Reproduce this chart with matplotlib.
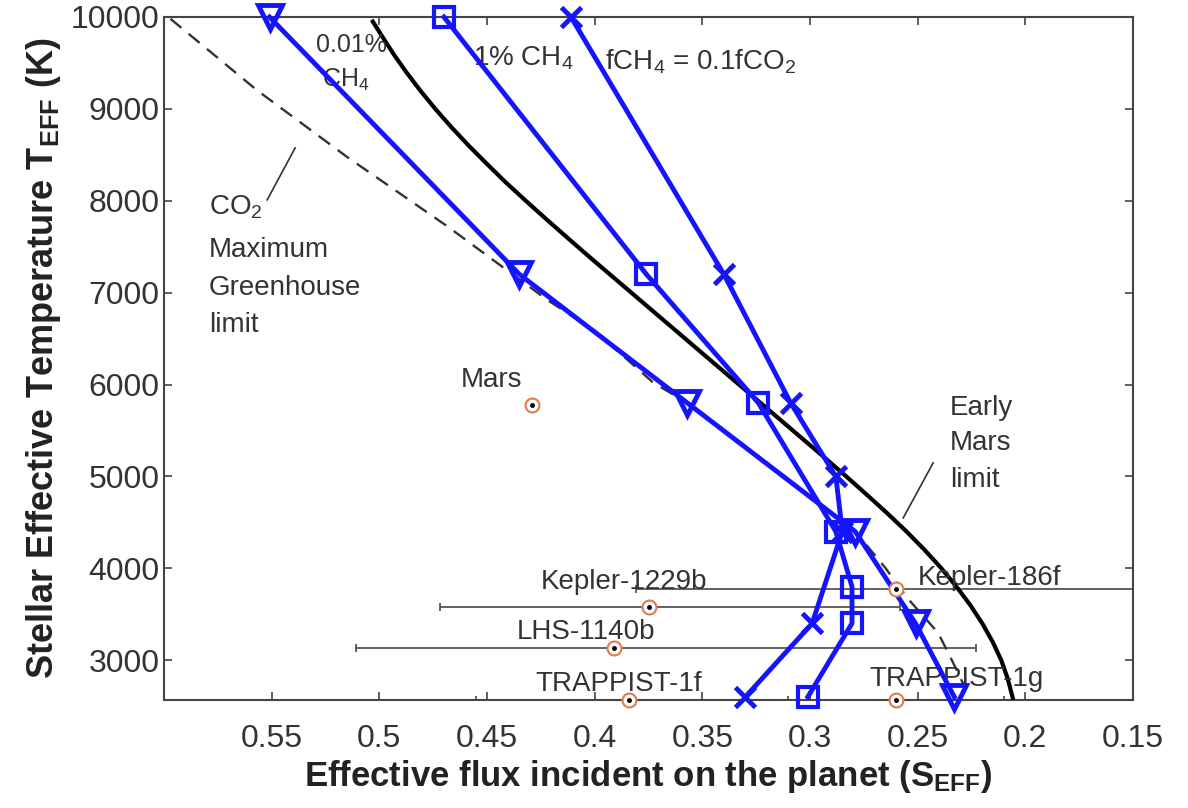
import matplotlib
matplotlib.use("Agg")
import matplotlib.pyplot as plt

plt.rcParams['font.family'] = ['Liberation Sans', 'DejaVu Sans']
plt.rcParams['mathtext.fontset'] = 'custom'
plt.rcParams['mathtext.rm'] = 'Liberation Sans'
plt.rcParams['mathtext.bf'] = 'Liberation Sans:bold'
plt.rcParams['mathtext.it'] = 'Liberation Sans:italic'

# --- data ---
# 0.01% CH4 (triangles)
ch4_low_s = [0.551, 0.435, 0.357, 0.279, 0.251, 0.233]
ch4_low_t = [10000, 7200, 5800, 4400, 3400, 2600]
# 1% CH4 (squares)
ch4_1_s = [0.470, 0.376, 0.324, 0.288, 0.2805, 0.2805, 0.301]
ch4_1_t = [10000, 7200, 5800, 4400, 3800, 3400, 2600]
# fCH4 = 0.1 fCO2 (crosses)
ch4_rel_s = [0.411, 0.340, 0.309, 0.288, 0.285, 0.299, 0.330]
ch4_rel_t = [10000, 7200, 5800, 5000, 4400, 3400, 2600]

# early Mars limit (solid black)
mars_lim_s = [0.503, 0.499, 0.4935, 0.4875, 0.481, 0.474, 0.4665, 0.4585,
              0.450, 0.4413, 0.432, 0.4225, 0.4128, 0.403, 0.393, 0.383,
              0.373, 0.363, 0.353, 0.343, 0.333, 0.323, 0.313, 0.303,
              0.293, 0.2832, 0.2736, 0.2642, 0.2552, 0.2468, 0.239, 0.232,
              0.2256, 0.220, 0.2152, 0.2112, 0.2082, 0.2056]
mars_lim_t = [9950, 9800, 9600, 9400, 9200, 9000, 8800, 8600,
              8400, 8200, 8000, 7800, 7600, 7400, 7200, 7000,
              6800, 6600, 6400, 6200, 6000, 5800, 5600, 5400,
              5200, 5000, 4800, 4600, 4400, 4200, 4000, 3800,
              3600, 3400, 3200, 3000, 2800, 2566]
# CO2 maximum greenhouse limit (dashed)
maxgh_s = [0.597, 0.557, 0.515, 0.468, 0.422, 0.4005, 0.3726, 0.357,
           0.312, 0.279, 0.265, 0.2553, 0.2405, 0.2326, 0.228]
maxgh_t = [9980, 9206, 8477, 7715, 6921, 6594, 6017, 5800,
           5000, 4400, 4004, 3689, 3297, 2927, 2700]

# planets
planet_names = ['Mars', 'Kepler-1229b', 'Kepler-186f', 'LHS-1140b',
                'TRAPPIST-1f', 'TRAPPIST-1g']
planet_s = [0.429, 0.375, 0.260, 0.391, 0.384, 0.260]
planet_t = [5780, 3580, 3770, 3131, 2566, 2566]
planet_s_hi = [0.429, 0.472, 0.381, 0.511, 0.455, 0.300]
planet_s_lo = [0.429, 0.258, 0.100, 0.223, 0.310, 0.210]

xticks = [0.55, 0.5, 0.45, 0.4, 0.35, 0.3, 0.25, 0.2, 0.15]
xtick_labels = ['0.55', '0.5', '0.45', '0.4', '0.35', '0.3', '0.25', '0.2', '0.15']
yticks = [3000, 4000, 5000, 6000, 7000, 8000, 9000, 10000]

blue = '#1414ff'
gray_txt = '#333333'

fig = plt.figure(figsize=(11.88, 8.08), dpi=100)
ax = fig.add_axes([164 / 1188, 1 - 700 / 808, (1133 - 164) / 1188, 683 / 808])

# error bars of planets (range lo..hi)
for s, t, hi, lo in zip(planet_s, planet_t, planet_s_hi, planet_s_lo):
    if hi == lo:
        continue
    ax.errorbar(s, t, xerr=[[s - lo], [hi - s]], fmt='none', ecolor='#555555',
                elinewidth=1.3, capsize=3, capthick=1.3, zorder=2)

ax.plot(maxgh_s, maxgh_t, color='#333333', linestyle=(0, (6, 4)), linewidth=1.7, zorder=3)
ax.plot(mars_lim_s, mars_lim_t, color='black', linewidth=3, zorder=3)

ax.plot(ch4_low_s, ch4_low_t, color=blue, linewidth=3.5, marker='v', markersize=17,
        markerfacecolor='none', markeredgewidth=3.5, zorder=4, clip_on=False)
ax.plot(ch4_1_s, ch4_1_t, color=blue, linewidth=3.5, marker='s', markersize=15,
        markerfacecolor='none', markeredgewidth=3, zorder=4, clip_on=False)
ax.plot(ch4_rel_s, ch4_rel_t, color=blue, linewidth=3.5, marker='x', markersize=15,
        markeredgewidth=3.5, zorder=4, clip_on=False)

# planets: orange ring with black dot
ax.plot(planet_s, planet_t, linestyle='none', marker='o', markersize=10,
        markerfacecolor='white', markeredgecolor='#e07a50', markeredgewidth=1.5,
        zorder=5, clip_on=False)
ax.plot(planet_s, planet_t, linestyle='none', marker='o', markersize=2.5,
        color='black', zorder=6, clip_on=False)

fs = 20
# planet labels
ax.text(0.4623, 6050, 'Mars', fontsize=fs, color=gray_txt, ha='left', va='center')
ax.text(0.4251, 3852, 'Kepler-1229b', fontsize=fs, color=gray_txt, ha='left', va='center')
ax.text(0.2498, 3896, 'Kepler-186f', fontsize=fs, color=gray_txt, ha='left', va='center')
ax.text(0.4363, 3308, 'LHS-1140b', fontsize=fs, color=gray_txt, ha='left', va='center')
ax.text(0.4274, 2742, 'TRAPPIST-1f', fontsize=fs, color=gray_txt, ha='left', va='center')
ax.text(0.2726, 2797, 'TRAPPIST-1g', fontsize=fs, color=gray_txt, ha='left', va='center')

# curve labels
ax.text(0.5293, 9695, '0.01%', fontsize=fs - 2, color=gray_txt, ha='left', va='center')
ax.text(0.5265, 9314, 'CH$_4$', fontsize=fs - 2, color=gray_txt, ha='left', va='center')
ax.text(0.4567, 9554, '1% CH$_4$', fontsize=fs, color=gray_txt, ha='left', va='center')
ax.text(0.3953, 9510, 'fCH$_4$ = 0.1fCO$_2$', fontsize=fs, color=gray_txt,
        ha='left', va='center')

ax.text(0.5791, 7930, 'CO$_2$', fontsize=fs, color=gray_txt, ha='left', va='center')
ax.text(0.5791, 7465, 'Maximum', fontsize=fs, color=gray_txt, ha='left', va='center')
ax.text(0.5791, 7051, 'Greenhouse', fontsize=fs, color=gray_txt, ha='left', va='center')
ax.text(0.5791, 6649, 'limit', fontsize=fs, color=gray_txt, ha='left', va='center')
ax.plot([0.5521, 0.5391], [8009, 8575], color='#333333', linewidth=1.2)

ax.text(0.2349, 5745, 'Early', fontsize=fs, color=gray_txt, ha='left', va='center')
ax.text(0.2349, 5364, 'Mars', fontsize=fs, color=gray_txt, ha='left', va='center')
ax.text(0.2349, 4962, 'limit', fontsize=fs, color=gray_txt, ha='left', va='center')
ax.plot([0.2567, 0.2428], [4548, 5147], color='#333333', linewidth=1.2)

ax.set_xlim(0.6, 0.15)
ax.set_ylim(2566, 10000)
ax.set_xticks(xticks)
ax.set_xticklabels(xtick_labels)
ax.set_yticks(yticks)
ax.tick_params(direction='in', top=True, right=True, length=6, width=1.2,
               labelsize=23, colors='#444444', labelcolor='#333333')
ax.tick_params(axis='x', pad=17)
ax.tick_params(axis='y', pad=3)
for sp in ax.spines.values():
    sp.set_color('#444444')
    sp.set_linewidth(1.5)

ax.set_xlabel(r'Effective flux incident on the planet (S$_{\mathbf{EFF}}$)',
              fontsize=25, fontweight='bold', color='#222222', labelpad=3)
ax.set_ylabel(r'Stellar Effective Temperature T$_{\mathbf{EFF}}$ (K)',
              fontsize=26, fontweight='bold', color='#222222', labelpad=6)

fig.savefig('out.png', dpi=100)
